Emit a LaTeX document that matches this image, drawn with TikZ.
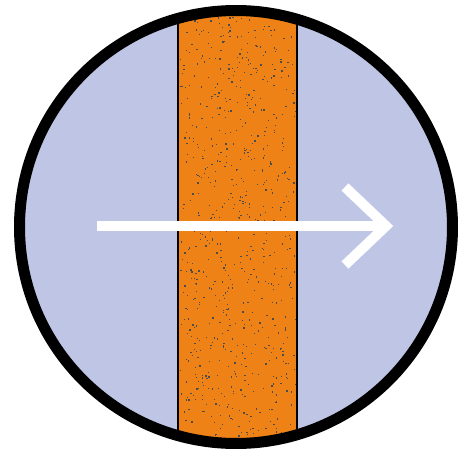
\documentclass[tikz,border=0pt]{standalone}
\definecolor{lav}{HTML}{BFC6E5}
\definecolor{org}{HTML}{EE8217}
\tikzset{
  ring/.style={line width=11pt, draw=black},
  edgeline/.style={line width=1.4pt, draw=black},
  flowarrow/.style={line width=10pt, draw=white, miter limit=10},
  grain/.style={fill=black!70}
}
\begin{document}
\begin{tikzpicture}[x=1pt,y=-1pt]
\useasboundingbox (0,0) rectangle (459,450);
\fill[lav] (236,227) circle (217);
\begin{scope}
  \clip (236,227) circle (217);
  \fill[org] (178,0) rectangle (297,450);
  \pgfmathsetseed{7}
  \foreach \i in {1,...,760}{
    \pgfmathsetmacro\xx{180+115*rnd}
    \pgfmathsetmacro\yy{450*rnd}
    \fill[grain] (\xx,\yy) rectangle ++(1.3,1.3);
  }
  \draw[edgeline] (178,0) -- (178,450) (297,0) -- (297,450);
\end{scope}
\draw[ring] (236,227) circle (216.5);
\draw[flowarrow] (97,226) -- (386,226);
\draw[flowarrow] (345,187) -- (386,226) -- (345,265);
\end{tikzpicture}
\end{document}
